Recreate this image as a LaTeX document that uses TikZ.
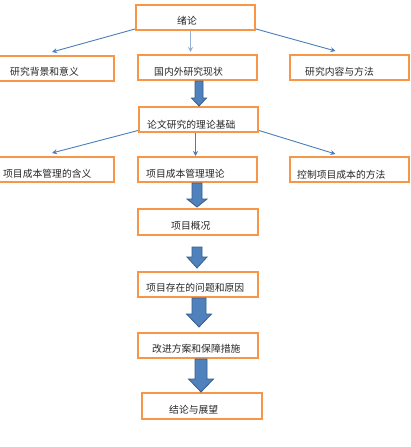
\documentclass[tikz,border=0pt]{standalone}
\usepackage{fontspec}
\newfontfamily\cjk{Noto Sans CJK SC}
\usetikzlibrary{calc,arrows.meta}
\definecolor{boxorange}{HTML}{F79646}
\definecolor{arrblue}{HTML}{4F81BD}
\definecolor{arrline}{HTML}{385D8A}
\definecolor{connblue}{HTML}{4A7EBB}
\tikzset{
  box/.style={draw=boxorange, line width=2pt, inner sep=0pt, minimum width=#1pt, minimum height=25pt},
  box/.default=119,
  txt/.style={font=\cjk\fontsize{9.8}{11}\selectfont, inner sep=0pt, anchor=west, text=black!85},
  conn/.style={draw=connblue, line width=0.9pt, -{Stealth[length=5pt,width=5pt]}},
  blk/.style={fill=arrblue, draw=arrline, line width=0.8pt, line join=miter}
}
\newcommand\blockarr[5]{%
  \draw[blk] ($(#1)+(-#3,0)$) -- ($(#2)+(-#3,-#5)$) -- ($(#2)+(-#4,-#5)$) -- (#2)
    -- ($(#2)+(#4,-#5)$) -- ($(#2)+(#3,-#5)$) -- ($(#1)+(#3,0)$) -- cycle;}
\begin{document}
\begin{tikzpicture}[x=1pt,y=-1pt]
\useasboundingbox[fill=white] (0,0) rectangle (411,447);
\begin{scope}
\clip (0,0) rectangle (411,447);
% boxes
\node[box] (A) at (195.5,17) {};
\node[box=116] (B1) at (56,68.5) {};
\node[box] (B2) at (197.5,67.5) {};
\node[box] (B3) at (349.5,67.5) {};
\node[box] (C) at (198.5,119.5) {};
\node[box=116] (D1) at (56,169.5) {};
\node[box] (D2) at (197.5,169.5) {};
\node[box] (D3) at (349.5,169.5) {};
\node[box=120,minimum height=26pt] (E) at (198,222) {};
\node[box=120] (F) at (198,284.5) {};
\node[box=120] (G) at (198,345.5) {};
\node[box=120,minimum height=26pt] (H) at (202,406) {};
% texts
\node[txt] (tA) at (177,21) {绪论};
\node[txt] (tB1) at (10,72) {研究背景和意义};
\node[txt] (tB2) at (154,72) {国内外研究现状};
\node[txt] (tB3) at (305,72) {研究内容与方法};
\node[txt] (tC) at (147,125) {论文研究的理论基础};
\node[txt] (tD1) at (3,174) {项目成本管理的含义};
\node[txt] (tD2) at (146,174) {项目成本管理理论};
\node[txt] (tD3) at (297,175) {控制项目成本的方法};
\node[txt] (tE) at (171,226) {项目概况};
\node[txt] (tF) at (146,288) {项目存在的问题和原因};
\node[txt] (tG) at (152,349) {改进方案和保障措施};
\node[txt] (tH) at (169,410) {结论与展望};
% thin connectors
\draw[conn] ([yshift=-12pt]A.west) -- ([xshift=-4pt,yshift=3pt]B1.north);
\draw[conn,draw=connblue!60] ([xshift=-5pt]A.south) -- ([xshift=-7pt,yshift=2pt]B2.north);
\draw[conn] ([yshift=-12pt]A.east) -- ([xshift=-14pt,yshift=3pt]B3.north);
\draw[conn] ([yshift=-11pt]C.west) -- ([xshift=-4pt,yshift=3pt]D1.north);
\draw[conn] ([xshift=-3pt]C.south) -- ([xshift=-2pt]D2.north);
\draw[conn] ([yshift=-11pt]C.east) -- ([xshift=-14pt,yshift=2pt]D3.north);
% block arrows
\coordinate (a1t) at ($(B2.south)+(1.5,0)$);
\coordinate (a1b) at ($(C.north)+(0.5,0)$);
\blockarr{a1t}{a1b}{4}{7.5}{8}
\coordinate (a2t) at ($(D2.south)+(-0.5,0)$);
\coordinate (a2b) at ($(E.north)+(-1,-1)$);
\blockarr{a2t}{a2b}{5}{10}{8}
\coordinate (a3t) at ($(E.south)+(-1,11)$);
\coordinate (a3b) at ($(F.north)+(-1,-3)$);
\blockarr{a3t}{a3b}{5}{10}{11}
\coordinate (a4t) at ($(F.south)+(1,0)$);
\coordinate (a4b) at ($(G.north)+(1,-5)$);
\blockarr{a4t}{a4b}{7}{12.5}{13}
\coordinate (a5t) at ($(G.south)+(3,0)$);
\coordinate (a5b) at ($(H.north)+(-1,0)$);
\blockarr{a5t}{a5b}{6}{12.5}{13}
\end{scope}
\end{tikzpicture}
\end{document}
